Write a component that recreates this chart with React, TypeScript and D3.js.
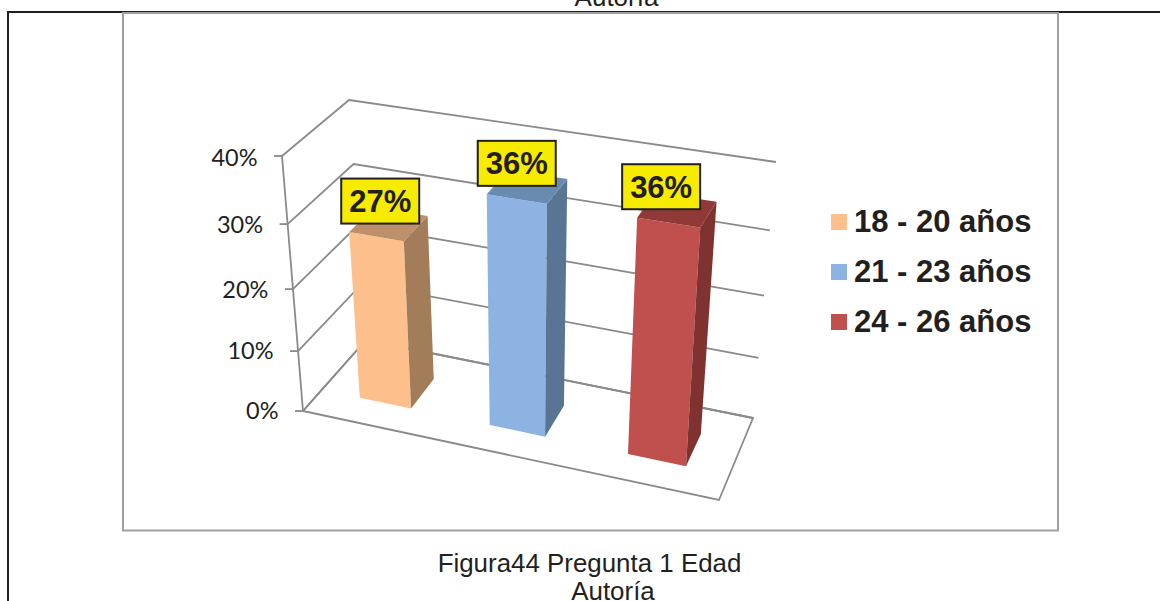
import React from "react";
import * as d3 from "d3";

// Chart content
const categories = ["18 - 20 años", "21 - 23 años", "24 - 26 años"];
const values = [27, 36, 36];
const valueLabels = ["27%", "36%", "36%"];
const axisTicks = [0, 10, 20, 30, 40];
const axisTickLabels = ["0%", "10%", "20%", "30%", "40%"];
const caption = ["Figura44 Pregunta 1 Edad", "Autoría"];

// Styling per series: front, side and top faces
const frontColors = ["#FDC08C", "#8DB3E2", "#C0504D"];
const sideColors = ["#A37D59", "#5A7594", "#7F3230"];
const topColors = ["#BD8F6B", "#6A8BB0", "#913937"];

// Projected corners of the 3D box, floor level and at the axis maximum
type Pt = [number, number];
const floor = { fl: [303, 411] as Pt, fr: [719, 500] as Pt, br: [753, 418] as Pt, bl: [366, 340] as Pt };
const ceil = { fl: [282, 156] as Pt, fr: [738, 225] as Pt, br: [776, 162] as Pt, bl: [349, 100] as Pt };

// Foreshortening of the value axis: fraction of the box height at every tick
const heightScale = d3.scaleLinear().domain(axisTicks).range([0, 0.235, 0.478, 0.733, 1]);

// Bar footprints in box coordinates
const barSpans: Pt[] = [[0.093, 0.219], [0.412, 0.548], [0.7515, 0.894]];
const barDepth: Pt = [0.3, 0.7];
const labelOffsets = [-8, -9, -15];

const mix = (a: Pt, b: Pt, t: number): Pt => [a[0] + (b[0] - a[0]) * t, a[1] + (b[1] - a[1]) * t];

// Maps (u across, w into the depth, value) onto the page
function project(u: number, w: number, value: number): Pt {
  const low = mix(mix(floor.fl, floor.fr, u), mix(floor.bl, floor.br, u), w);
  const high = mix(mix(ceil.fl, ceil.fr, u), mix(ceil.bl, ceil.br, u), w);
  return mix(low, high, heightScale(value));
}

const path = d3.line<Pt>();
const closed = (pts: Pt[]) => path(pts) + "Z";

const GRID = "#8A8A8A";
const INK = "#231F20";
const ARIAL = "'Liberation Sans', Arial, sans-serif";
const maxTick = axisTicks[axisTicks.length - 1];
const tickLabelDrop = d3.scaleLinear().domain([0, maxTick]).range([7.5, 10]);

export default function App() {
  return (
    <svg
      width={1160}
      height={601}
      viewBox="0 0 1160 601"
      style={{ position: "absolute", left: 0, top: 0, display: "block", background: "#fff" }}
    >
      {/* Page rule and heading left over from the surrounding document */}
      <text x={616.5} y={6} textAnchor="middle" fontFamily={ARIAL} fontSize={26} fill={INK}>
        {caption[1]}
      </text>
      <path d="M8 601V12H1160" fill="none" stroke={INK} strokeWidth={2} />

      {/* Chart frame */}
      <path d="M123 13H1058V530.5H123Z" fill="none" stroke="#A0A0A0" strokeWidth={2} />

      {/* Gridlines across the left and the back wall */}
      {axisTicks.map((t) => (
        <path
          key={t}
          d={path([project(0, 0, t), project(0, 1, t), project(1, 1, t)]) ?? ""}
          fill="none"
          stroke={GRID}
          strokeWidth={1.8}
        />
      ))}

      {/* Floor outline and the value axis */}
      <path
        d={closed([project(0, 0, 0), project(1, 0, 0), project(1, 1, 0), project(0, 1, 0)])}
        fill="none"
        stroke={GRID}
        strokeWidth={1.8}
      />
      <path d={path([project(0, 0, 0), project(0, 0, maxTick)]) ?? ""} fill="none" stroke={GRID} strokeWidth={1.8} />
      {axisTicks.map((t, i) => {
        const [x, y] = project(0, 0, t);
        return (
          <g key={t}>
            <line x1={x - 8} x2={x} y1={y} y2={y} stroke={GRID} strokeWidth={1.8} />
            <text
              x={x - 24.5}
              y={y + tickLabelDrop(t)}
              textAnchor="end"
              fontFamily="Lato, sans-serif"
              fontSize={23.5}
              fill={INK}
            >
              {axisTickLabels[i]}
            </text>
          </g>
        );
      })}

      {/* Bars */}
      {values.map((v, i) => {
        const [u0, u1] = barSpans[i];
        const [w0, w1] = barDepth;
        return (
          <g key={categories[i]}>
            <path
              d={closed([project(u0, w0, 0), project(u1, w0, 0), project(u1, w0, v), project(u0, w0, v)])}
              fill={frontColors[i]}
            />
            <path
              d={closed([project(u1, w0, 0), project(u1, w1, 0), project(u1, w1, v), project(u1, w0, v)])}
              fill={sideColors[i]}
            />
            <path
              d={closed([project(u0, w0, v), project(u1, w0, v), project(u1, w1, v), project(u0, w1, v)])}
              fill={topColors[i]}
            />
          </g>
        );
      })}

      {/* Value labels */}
      {values.map((v, i) => {
        const [x, y] = project(barSpans[i][0], barDepth[0], v);
        const left = x + labelOffsets[i];
        const bottom = y - 8.5;
        return (
          <g key={categories[i]}>
            <rect x={left} y={bottom - 45} width={78} height={45} fill="#F7EC00" stroke={INK} strokeWidth={2} />
            <text
              x={left + 39}
              y={bottom - 11.5}
              textAnchor="middle"
              fontFamily={ARIAL}
              fontWeight="bold"
              fontSize={31}
              fill={INK}
            >
              {valueLabels[i]}
            </text>
          </g>
        );
      })}

      {/* Legend */}
      {categories.map((c, i) => (
        <g key={c} transform={`translate(831,${214 + i * 50})`}>
          <rect width={16} height={16} fill={frontColors[i]} />
          <text x={23} y={18} fontFamily={ARIAL} fontWeight="bold" fontSize={31} fill={INK}>
            {c}
          </text>
        </g>
      ))}

      {/* Caption under the chart */}
      <text x={589.5} y={572} textAnchor="middle" fontFamily={ARIAL} fontSize={25.9} fill={INK}>
        {caption[0]}
      </text>
      <text x={613} y={600} textAnchor="middle" fontFamily={ARIAL} fontSize={25.9} fill={INK}>
        {caption[1]}
      </text>
    </svg>
  );
}
